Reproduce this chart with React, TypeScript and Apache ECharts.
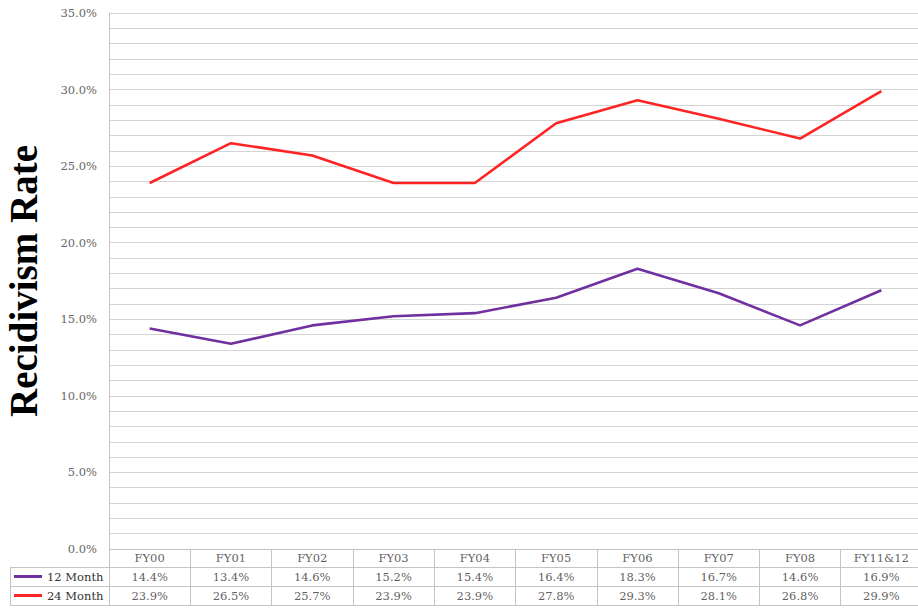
import React, { useEffect, useRef } from "react";
import * as echarts from "echarts";

const categories = ["FY00", "FY01", "FY02", "FY03", "FY04", "FY05", "FY06", "FY07", "FY08", "FY11&12"];
const month12 = [14.4, 13.4, 14.6, 15.2, 15.4, 16.4, 18.3, 16.7, 14.6, 16.9];
const month24 = [23.9, 26.5, 25.7, 23.9, 23.9, 27.8, 29.3, 28.1, 26.8, 29.9];
const seriesNames = ["12 Month", "24 Month"];

const SERIF = "'DejaVu Serif', 'Liberation Serif', serif";
const GRID = "#d4d4d4";
const BORDER = "#c4c4c4";

export default function App() {
  const ref = useRef<HTMLDivElement>(null);
  useEffect(() => {
    if (!ref.current) return;
    const chart = echarts.init(ref.current, undefined, { renderer: "svg" });
    const fmt = (v: number) => v.toFixed(1) + "%";
    const tableData: any[] = [];
    categories.forEach((c, i) => {
      tableData.push({ value: [i, 2.5], name: c });
      tableData.push({ value: [i, 1.5], name: fmt(month12[i]) });
      tableData.push({ value: [i, 0.5], name: fmt(month24[i]) });
    });
    chart.setOption({
      animation: false,
      backgroundColor: "#ffffff",
      grid: [
        { left: 109, top: 13, width: 813, height: 536, outerBoundsMode: "none", containLabel: false },
        { left: 109, top: 549, width: 813, height: 56, outerBoundsMode: "none", containLabel: false },
      ],
      legend: {
        data: seriesNames,
        orient: "vertical",
        left: 14,
        top: 567,
        padding: 0,
        itemGap: 0,
        itemWidth: 28,
        itemHeight: 3,
        icon: "rect",
        textStyle: { fontFamily: SERIF, fontSize: 11.5, color: "#333", lineHeight: 19 },
      },
      xAxis: [
        {
          type: "category",
          gridIndex: 0,
          data: categories,
          boundaryGap: true,
          axisLine: { show: false },
          axisTick: { show: false },
          axisLabel: { show: false },
          splitLine: { show: false },
        },
        {
          type: "category",
          gridIndex: 1,
          data: categories,
          boundaryGap: true,
          position: "top",
          axisLine: { show: true, lineStyle: { color: BORDER } },
          axisTick: { show: false },
          axisLabel: { show: false },
          splitLine: { show: true, lineStyle: { color: BORDER } },
        },
      ],
      yAxis: [
        {
          type: "value",
          gridIndex: 0,
          min: 0,
          max: 35,
          interval: 5,
          name: "Recidivism Rate",
          nameLocation: "middle",
          nameGap: 66,
          nameTextStyle: { fontFamily: "'Liberation Serif', serif", fontWeight: "bold", fontSize: 39, color: "#000" },
          axisLine: { show: true, lineStyle: { color: BORDER } },
          axisTick: { show: false },
          axisLabel: { formatter: (v: number) => fmt(v), fontFamily: SERIF, fontSize: 11.5, color: "#666", margin: 12 },
          splitLine: { show: true, lineStyle: { color: GRID, width: 1 } },
          minorTick: { show: false, splitNumber: 5 },
          minorSplitLine: { show: true, lineStyle: { color: GRID, width: 1 } },
        },
        {
          type: "value",
          gridIndex: 1,
          min: 0,
          max: 3,
          interval: 1,
          axisLine: { show: true, lineStyle: { color: BORDER } },
          axisTick: { show: false },
          axisLabel: { show: false },
          splitLine: { show: true, lineStyle: { color: BORDER } },
        },
      ],
      series: [
        {
          name: seriesNames[0],
          type: "line",
          data: month12,
          symbol: "none",
          itemStyle: { color: "#7030a0" },
          lineStyle: { color: "#7030a0", width: 2.6 },
        },
        {
          name: seriesNames[1],
          type: "line",
          data: month24,
          symbol: "none",
          itemStyle: { color: "#ff2424" },
          lineStyle: { color: "#ff2424", width: 2.6 },
        },
        {
          type: "scatter",
          xAxisIndex: 1,
          yAxisIndex: 1,
          data: tableData,
          symbolSize: 1,
          itemStyle: { color: "rgba(0,0,0,0)" },
          silent: true,
          label: {
            show: true,
            position: "inside",
            formatter: "{b}",
            fontFamily: SERIF,
            fontSize: 11.5,
            color: "#333",
          },
        },
      ],
      graphic: [
        { type: "line", shape: { x1: 10, y1: 567.5, x2: 109, y2: 567.5 }, style: { stroke: BORDER, lineWidth: 1 } },
        { type: "line", shape: { x1: 10, y1: 586.5, x2: 109, y2: 586.5 }, style: { stroke: BORDER, lineWidth: 1 } },
        { type: "line", shape: { x1: 10, y1: 605.5, x2: 109, y2: 605.5 }, style: { stroke: BORDER, lineWidth: 1 } },
        { type: "line", shape: { x1: 10.5, y1: 567, x2: 10.5, y2: 606 }, style: { stroke: BORDER, lineWidth: 1 } },
      ],
    });
    return () => chart.dispose();
  }, []);
  return (
    <div
      ref={ref}
      style={{ position: "absolute", left: 0, top: 0, width: 918, height: 611 }}
    />
  );
}
